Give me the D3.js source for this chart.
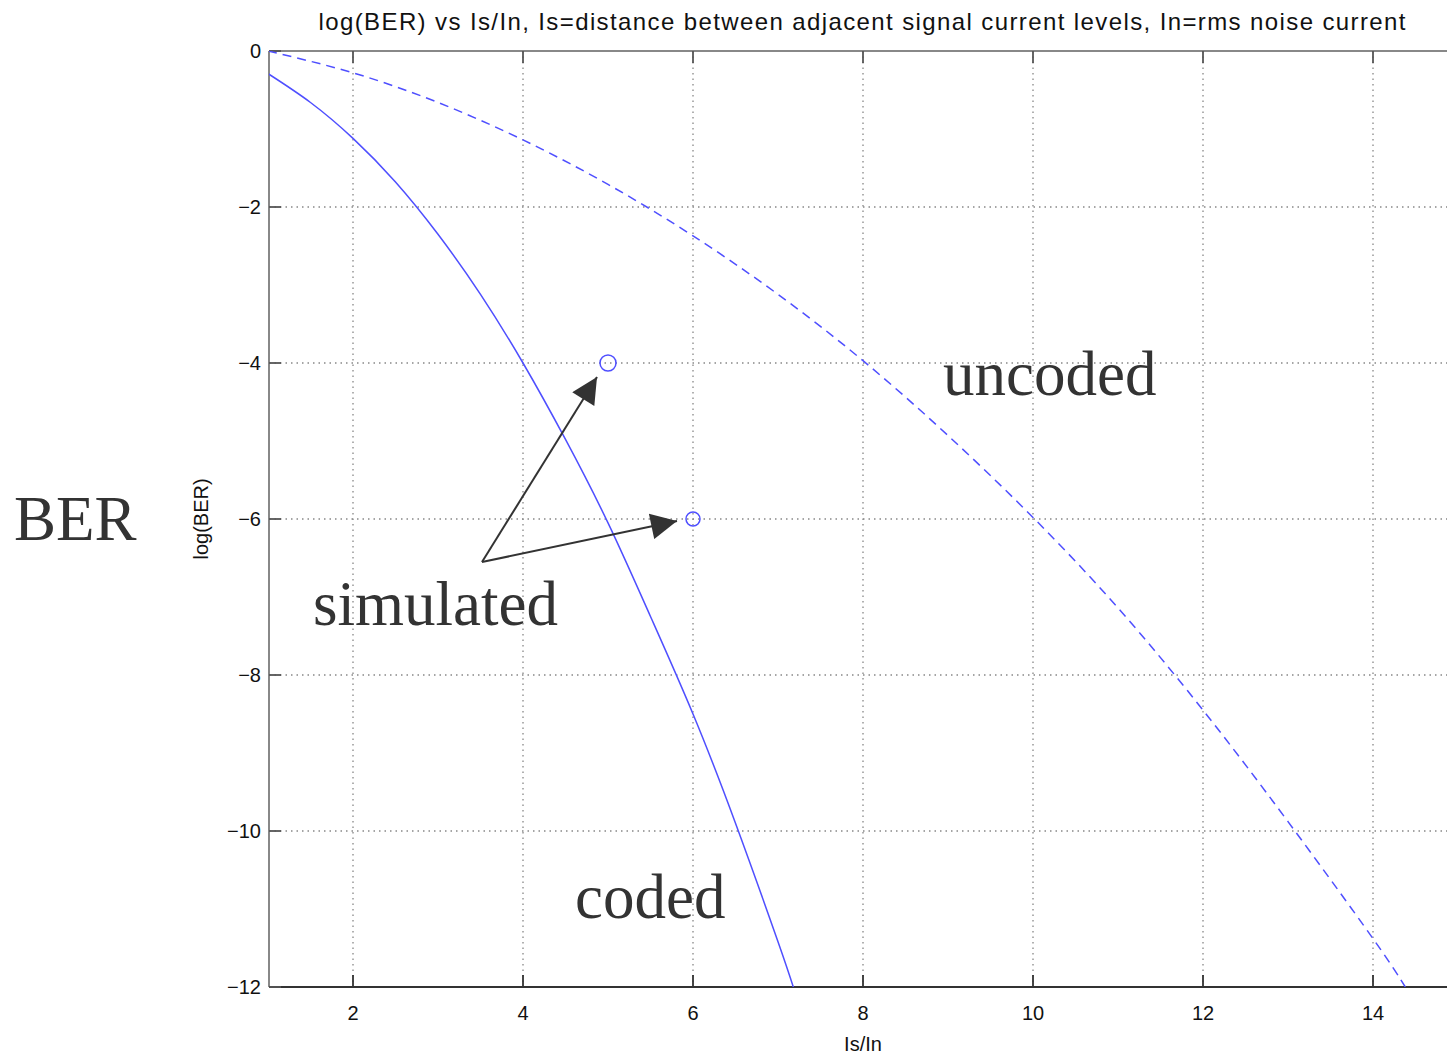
<!DOCTYPE html>
<html>
<head>
<meta charset="utf-8">
<script src="https://cdn.jsdelivr.net/npm/d3@7"></script>
<style>
  body { margin: 0; background: #fff; }
  svg { display: block; }
  .tick-label { font-family: "Liberation Sans", Arial, sans-serif; font-size: 20px; fill: #111; }
  .title { font-family: "Liberation Sans", Arial, sans-serif; font-size: 24px; fill: #111; }
  .note { font-family: "Liberation Serif", "Times New Roman", serif; font-size: 63px; fill: #333; }
</style>
</head>
<body>
<svg width="1447" height="1056"></svg>
<script>
// Chart data
const xTicks = [2, 4, 6, 8, 10, 12, 14];
const yTicks = [0, -2, -4, -6, -8, -10, -12];

const codedX = [1, 1.5, 2, 2.5, 3, 3.5, 4, 4.5, 5, 5.5, 6, 6.5, 7, 7.18];
const codedY = [-0.29, -0.66, -1.12, -1.68, -2.35, -3.12, -4.0, -4.98, -6.05, -7.25, -8.5, -9.9, -11.42, -12];

const uncodedX = [1, 2, 3, 4, 5, 6, 7, 8, 9, 10, 11, 12, 13, 14, 14.38];
const uncodedY = [0, -0.28, -0.66, -1.14, -1.71, -2.37, -3.12, -3.97, -4.93, -5.98, -7.14, -8.45, -9.88, -11.38, -12];

const simX = [5, 6];
const simY = [-4, -6];

const svg = d3.select('svg');

// Scales: plot runs off the right side of the page, like the original
const x = d3.scaleLinear().domain([1, 16]).range([268, 1543]);
const y = d3.scaleLinear().domain([-12, 0]).range([987, 51]);

const pLeft = 269, pTop = 51, pBottom = 987, pRight = 1447;

// Grid
svg.append('g')
  .selectAll('line')
  .data(xTicks)
  .enter()
  .append('line')
  .attr('x1', d => x(d)).attr('x2', d => x(d))
  .attr('y1', pTop).attr('y2', pBottom)
  .attr('stroke', '#888')
  .attr('stroke-dasharray', '1.5,4')
  .attr('stroke-width', 1.3);

svg.append('g')
  .selectAll('line')
  .data(yTicks.filter(d => d !== 0 && d !== -12))
  .enter()
  .append('line')
  .attr('x1', pLeft).attr('x2', pRight)
  .attr('y1', d => y(d)).attr('y2', d => y(d))
  .attr('stroke', '#888')
  .attr('stroke-dasharray', '1.5,4')
  .attr('stroke-width', 1.3);

// Axes box (left, top, bottom)
svg.append('line').attr('x1', pLeft).attr('x2', pRight).attr('y1', pTop).attr('y2', pTop)
  .attr('stroke', '#888').attr('stroke-width', 2);
svg.append('line').attr('x1', pLeft).attr('x2', pLeft).attr('y1', pTop).attr('y2', pBottom)
  .attr('stroke', '#888').attr('stroke-width', 2);
svg.append('line').attr('x1', pLeft).attr('x2', pRight).attr('y1', pBottom).attr('y2', pBottom)
  .attr('stroke', '#333').attr('stroke-width', 2);

// Inward tick marks
xTicks.forEach(t => {
  svg.append('line').attr('x1', x(t)).attr('x2', x(t)).attr('y1', pBottom).attr('y2', pBottom - 12)
    .attr('stroke', '#333').attr('stroke-width', 1.8);
  svg.append('line').attr('x1', x(t)).attr('x2', x(t)).attr('y1', pTop).attr('y2', pTop + 12)
    .attr('stroke', '#555').attr('stroke-width', 1.8);
});
yTicks.forEach(t => {
  svg.append('line').attr('x1', pLeft).attr('x2', pLeft + 12).attr('y1', y(t)).attr('y2', y(t))
    .attr('stroke', '#555').attr('stroke-width', 1.8);
});

// Tick labels
svg.append('g')
  .selectAll('text')
  .data(xTicks)
  .enter()
  .append('text')
  .attr('class', 'tick-label')
  .attr('x', d => x(d))
  .attr('y', pBottom + 33)
  .attr('text-anchor', 'middle')
  .text(d => d);

svg.append('g')
  .selectAll('text')
  .data(yTicks)
  .enter()
  .append('text')
  .attr('class', 'tick-label')
  .attr('x', pLeft - 8)
  .attr('y', d => y(d) + 7)
  .attr('text-anchor', 'end')
  .text(d => d < 0 ? '\u2212' + Math.abs(d) : d);

// Axis titles
svg.append('text')
  .attr('class', 'tick-label')
  .attr('x', x(8))
  .attr('y', 1051)
  .attr('text-anchor', 'middle')
  .text('Is/In');

svg.append('text')
  .attr('class', 'tick-label')
  .attr('transform', `translate(208, ${y(-6)}) rotate(-90)`)
  .attr('text-anchor', 'middle')
  .text('log(BER)');

svg.append('text')
  .attr('class', 'title')
  .attr('x', 862)
  .attr('y', 30)
  .attr('text-anchor', 'middle')
  .attr('textLength', 1087)
  .text('log(BER) vs Is/In, Is=distance between adjacent signal current levels, In=rms noise current');

// Curves
const line = d3.line()
  .x(d => x(d[0]))
  .y(d => y(d[1]))
  .curve(d3.curveNatural);

svg.append('clipPath').attr('id', 'plot')
  .append('rect').attr('x', pLeft).attr('y', pTop).attr('width', pRight - pLeft).attr('height', pBottom - pTop);

svg.append('path')
  .datum(codedX.map((v, i) => [v, codedY[i]]))
  .attr('clip-path', 'url(#plot)')
  .attr('d', line)
  .attr('fill', 'none')
  .attr('stroke', '#4f4fff')
  .attr('stroke-width', 1.5);

svg.append('path')
  .datum(uncodedX.map((v, i) => [v, uncodedY[i]]))
  .attr('clip-path', 'url(#plot)')
  .attr('d', line)
  .attr('fill', 'none')
  .attr('stroke', '#4f4fff')
  .attr('stroke-width', 1.5)
  .attr('stroke-dasharray', '9,6');

// Simulated points
svg.selectAll('circle')
  .data(simX.map((v, i) => [v, simY[i]]))
  .enter()
  .append('circle')
  .attr('cx', d => x(d[0]))
  .attr('cy', d => y(d[1]))
  .attr('r', (d, i) => i === 0 ? 8 : 7)
  .attr('fill', 'none')
  .attr('stroke', '#4f4fff')
  .attr('stroke-width', 1.5);

// Annotation arrows
svg.append('defs').append('marker')
  .attr('id', 'head')
  .attr('viewBox', '0 0 10 10')
  .attr('refX', 10).attr('refY', 5)
  .attr('markerWidth', 28).attr('markerHeight', 26)
  .attr('markerUnits', 'userSpaceOnUse')
  .attr('orient', 'auto')
  .append('path')
  .attr('d', 'M0,0 L10,5 L0,10 Z')
  .attr('fill', '#333');

const apex = [482, 562];
[[x(5) - 11, y(-4) + 14], [x(6) - 16, y(-6) + 2]].forEach(tip => {
  svg.append('line')
    .attr('x1', apex[0]).attr('y1', apex[1])
    .attr('x2', tip[0]).attr('y2', tip[1])
    .attr('stroke', '#333')
    .attr('stroke-width', 2)
    .attr('marker-end', 'url(#head)');
});

// Text notes
svg.append('text').attr('class', 'note').attr('x', 943).attr('y', 395).text('uncoded');
svg.append('text').attr('class', 'note').attr('x', 14).attr('y', 540).text('BER');
svg.append('text').attr('class', 'note').attr('x', 313).attr('y', 625).text('simulated');
svg.append('text').attr('class', 'note').attr('x', 575).attr('y', 918).text('coded');
</script>
</body>
</html>
